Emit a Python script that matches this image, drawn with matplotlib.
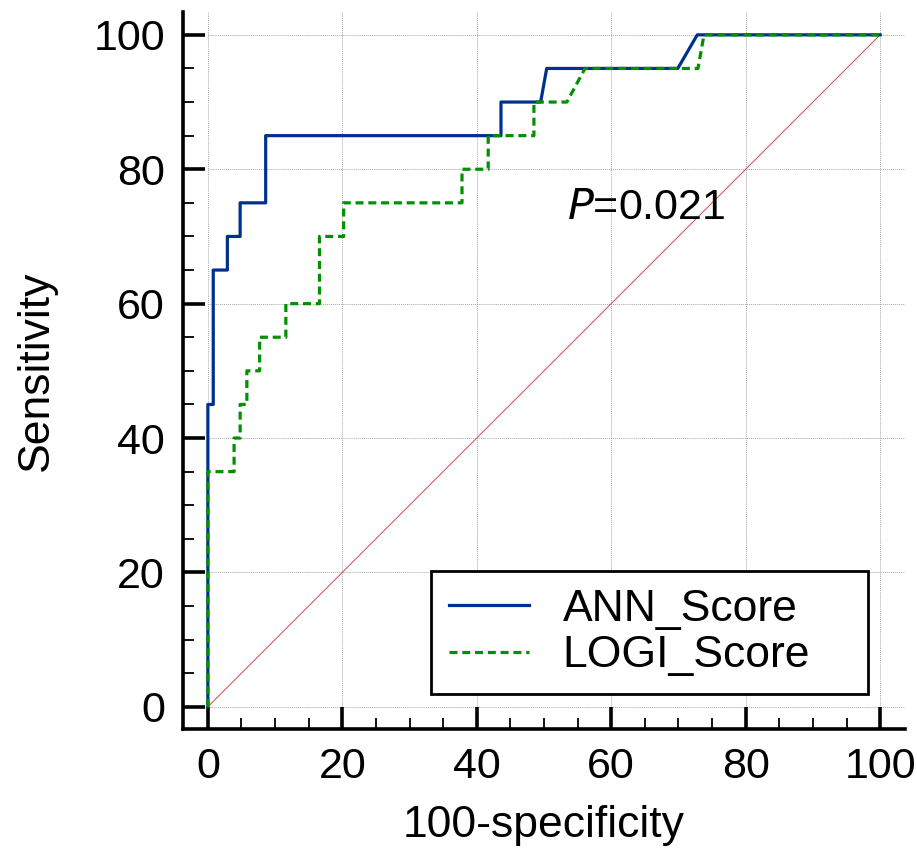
import matplotlib
matplotlib.use("Agg")
import matplotlib.pyplot as plt
from matplotlib.ticker import MultipleLocator

plt.rcParams['font.family'] = ['Liberation Sans', 'DejaVu Sans']

# ROC data (100-specificity, sensitivity)
ann_x = [0, 0, 0.8, 0.8, 2.9, 2.9, 4.8, 4.8, 8.6, 8.6, 43.6, 43.6, 49.5, 50.4, 69.9, 72.8, 100]
ann_y = [0, 45, 45, 65, 65, 70, 70, 75, 75, 85, 85, 90, 90, 95, 95, 100, 100]

logi_x = [0, 0, 3.9, 3.9, 4.8, 4.8, 5.8, 5.8, 7.7, 7.7, 11.6, 11.6, 16.6, 16.6, 20.2, 20.2,
          37.8, 37.8, 41.7, 41.7, 48.5, 48.5, 53.4, 56.1, 72.9, 73.8, 100]
logi_y = [0, 35, 35, 40, 40, 45, 45, 50, 50, 55, 55, 60, 60, 70, 70, 75,
          75, 80, 80, 85, 85, 90, 90, 95, 95, 100, 100]

ref_x = [0, 100]
ref_y = [0, 100]

labels = ["ANN_Score", "LOGI_Score"]
ticks = [0, 20, 40, 60, 80, 100]
p_text = "=0.021"

fig = plt.figure(figsize=(9.17, 8.57), dpi=100)
ax = fig.add_axes([183/917, 1-729/857, 722/917, 717/857])
ax.set_xlim(-3.7, 103.7)
ax.set_ylim(-3.3, 103.4)

# grid
for t in ticks:
    ax.plot([t, t], [0, 103.4], color='#a8a8a8', lw=0.7, ls=(0, (1, 1)), zorder=0)
    ax.plot([0, 103.7], [t, t], color='#a8a8a8', lw=0.7, ls=(0, (1, 1)), zorder=0)

ax.plot(ref_x, ref_y, color='#d04a4a', lw=0.7, zorder=1)
ax.plot(logi_x, logi_y, color='#009000', lw=2.3, ls=(0, (2.5, 1.5)), label=labels[1], zorder=3)
ax.plot(ann_x, ann_y, color='#00308f', lw=2.3, label=labels[0], zorder=2)

for s in ['top', 'right']:
    ax.spines[s].set_visible(False)
for s in ['left', 'bottom']:
    ax.spines[s].set_linewidth(2.6)

ax.set_xticks(ticks)
ax.set_yticks(ticks)
ax.xaxis.set_minor_locator(MultipleLocator(5))
ax.yaxis.set_minor_locator(MultipleLocator(5))
ax.tick_params(which='major', direction='in', length=16, width=2.6, labelsize=31, pad=13)
ax.tick_params(which='minor', direction='in', length=8, width=1.3)

ax.set_xlabel("100-specificity", fontsize=32, labelpad=13)
ax.set_ylabel("Sensitivity", fontsize=32, labelpad=26)

ax.text(53.4, 72.6, "$\\mathit{P}$" + p_text, fontsize=31, ha='left', va='baseline')

handles, labs = ax.get_legend_handles_labels()
order = [labs.index(l) for l in labels]
leg = ax.legend([handles[i] for i in order], [labs[i] for i in order],
                loc='lower left', bbox_to_anchor=(0.344, 0.049, 0.605, 0.18), mode='expand',
                fontsize=32, handlelength=1.8, handletextpad=0.75, labelspacing=0.12,
                borderpad=0.4, borderaxespad=0, fancybox=False, frameon=True, framealpha=1)
leg.get_frame().set_edgecolor('black')
leg.get_frame().set_linewidth(2)

fig.savefig("out.png", dpi=100)
